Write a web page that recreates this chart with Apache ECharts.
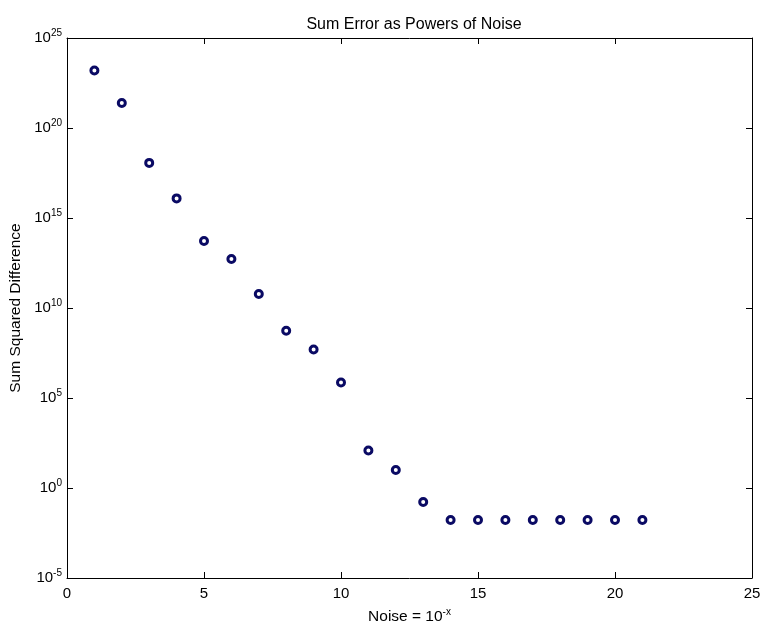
<!DOCTYPE html>
<html><head><meta charset="utf-8">
<script src="https://cdn.jsdelivr.net/npm/echarts@6/dist/echarts.min.js"></script>
<style>html,body{margin:0;padding:0;background:#fff}#c{width:762px;height:626px}</style>
</head><body><div id="c"></div>
<script>
const noisePower = [1,2,3,4,5,6,7,8,9,10,11,12,13,14,15,16,17,18,19,20,21];
const sumSquaredDiff = [1.55e23,2.45e21,1.15e18,1.23e16,5.25e13,5.25e12,6.0e10,5.5e8,4.9e7,7.2e5,120,10,0.166,0.0166,0.0166,0.0166,0.0166,0.0166,0.0166,0.0166,0.0166];
const xTicks = [0,5,10,15,20,25];
const yTickExponents = [-5,0,5,10,15,20,25];

const FONT = '"Liberation Sans", Arial, sans-serif';
const pts = noisePower.map((x,i)=>[x,sumSquaredDiff[i]]);
const chart = echarts.init(document.getElementById('c'), null, {renderer:'canvas'});
const tickRich = {
  b:{fontSize:15,fontFamily:FONT,color:'#000'},
  s:{fontSize:10,fontFamily:FONT,color:'#000',padding:[0,0,10,0]}
};
const nameRich = {
  b:{fontSize:15.5,fontFamily:FONT,color:'#000'},
  s:{fontSize:10,fontFamily:FONT,color:'#000',padding:[0,0,10,0]}
};
const axisBase = {
  axisLine:{show:true,onZero:false,lineStyle:{color:'#000',width:1}},
  axisTick:{show:true,inside:true,length:6,lineStyle:{color:'#000'}},
  splitLine:{show:false},
  minorTick:{show:false}
};
chart.setOption({
  animation:false,
  backgroundColor:'#fff',
  title:{text:'Sum Error as Powers of Noise',left:409,textAlign:'center',top:12,
    textStyle:{fontSize:16,fontWeight:'normal',fontFamily:FONT,color:'#000'}},
  grid:{left:67,right:10,top:38,bottom:48,containLabel:false,outerBoundsMode:'none'},
  xAxis:[
    Object.assign({type:'value',min:xTicks[0],max:xTicks[xTicks.length-1],interval:5,position:'bottom',
      name:'{b|Noise = 10}{s|-x}',nameLocation:'middle',nameGap:29,
      nameTextStyle:{fontSize:15.5,fontFamily:FONT,color:'#000',rich:nameRich},
      axisLabel:{fontSize:15,fontFamily:FONT,color:'#000',margin:8}},axisBase),
    Object.assign({type:'value',min:xTicks[0],max:xTicks[xTicks.length-1],interval:5,position:'top',
      axisLabel:{show:false}},axisBase)
  ],
  yAxis:[
    Object.assign({type:'log',logBase:10,min:Math.pow(10,yTickExponents[0]),max:Math.pow(10,yTickExponents[yTickExponents.length-1]),interval:5,position:'left',
      name:'Sum Squared Difference',nameLocation:'middle',nameGap:39,nameRotate:90,
      nameTextStyle:{fontSize:15.5,fontFamily:FONT,color:'#000'},
      axisLabel:{margin:5,formatter:function(v){const e=Math.round(Math.log10(v));return '{b|10}{s|'+e+'}';},rich:tickRich}},axisBase),
    Object.assign({type:'log',logBase:10,min:Math.pow(10,yTickExponents[0]),max:Math.pow(10,yTickExponents[yTickExponents.length-1]),interval:5,position:'right',
      axisLabel:{show:false}},axisBase)
  ],
  series:[{
    type:'scatter',xAxisIndex:0,yAxisIndex:0,data:pts,
    symbol:'circle',symbolSize:7,
    itemStyle:{color:'#fff',borderColor:'#0a0a64',borderWidth:3,opacity:1}
  }]
});
</script></body></html>
